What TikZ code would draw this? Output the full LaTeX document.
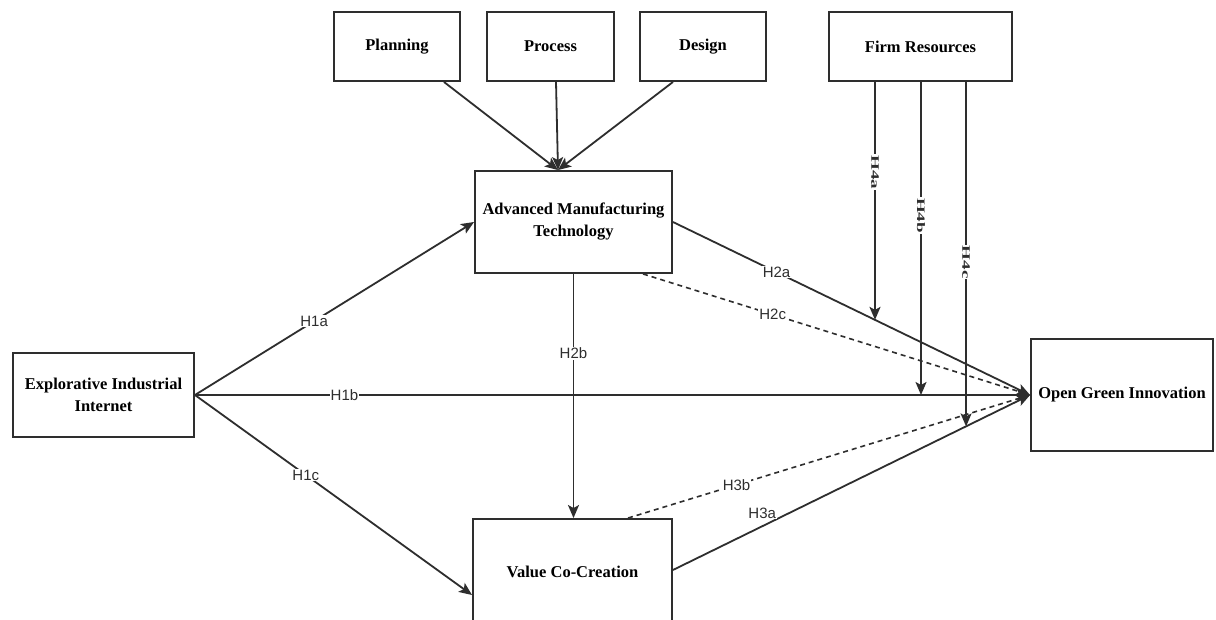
\documentclass[tikz,border=0pt]{standalone}
\usepackage{fontspec}
\setmainfont{Liberation Serif}
\setsansfont{Liberation Sans}
\usetikzlibrary{arrows.meta,calc}
\definecolor{ln}{HTML}{2E2E2E}
\begin{document}
\begin{tikzpicture}[x=1pt,y=-1pt,
  box/.style={draw=ln,line width=1.9pt,fill=white,inner sep=2pt,align=center,
    font=\fontsize{16.5}{22}\selectfont\bfseries},
  arr/.style={draw=ln,line width=1.8pt,-{Stealth[length=13pt,width=11pt,inset=3pt]}},
  dsh/.style={draw=ln,line width=1.6pt,dash pattern=on 5pt off 4pt},
  lbl/.style={fill=white,inner sep=1pt,text=ln,font=\sffamily\fontsize{15}{16}\selectfont},
  vlbl/.style={fill=white,inner sep=1pt,text=ln,rotate=-90,font=\fontsize{19}{20}\selectfont\bfseries}]
\clip (0,0) rectangle (1216,620);
\fill[white] (0,0) rectangle (1216,620);
% boxes
\node[box,minimum width=126pt,minimum height=69pt] (plan) at (397,46.5) {Planning};
\node[box,minimum width=127pt,minimum height=69pt] (proc) at (550.5,46.5) {Process};
\node[box,minimum width=126pt,minimum height=69pt] (design) at (703,46.5) {Design};
\node[box,minimum width=183pt,minimum height=69pt] (firm) at (920.5,46.5) {Firm Resources};
\node[box,minimum width=197pt,minimum height=102pt] (amt) at (573.5,222) {Advanced Manufacturing\\Technology};
\node[box,minimum width=181pt,minimum height=84pt] (eii) at (103.5,395) {Explorative Industrial\\Internet};
\node[box,minimum width=199pt,minimum height=106pt] (vcc) at (572.5,572) {Value Co-Creation};
\node[box,minimum width=182pt,minimum height=112pt] (ogi) at (1122,395) {Open Green Innovation};
% named points
\coordinate (amtin) at ([xshift=-15.5pt]amt.north);
\coordinate (f1) at ([xshift=-45.5pt]firm.south);
\coordinate (f2) at ([xshift=0.5pt]firm.south);
\coordinate (f3) at ([xshift=45.5pt]firm.south);
\coordinate (amtd) at ([xshift=69.5pt]amt.south);
\coordinate (vccd) at ([xshift=55.5pt]vcc.north);
\coordinate (vcce) at ([yshift=2pt]vcc.east);
\coordinate (vccw) at ([yshift=-23pt]vcc.west);
% top inputs
\draw[arr] ([xshift=-17pt]plan.south east) -- (amtin);
\draw[arr] ([xshift=5.5pt]proc.south) -- (amtin);
\draw[arr] ([xshift=-30pt]design.south) -- (amtin);
% dashed
\draw[dsh] (amtd) -- node[lbl,pos=0.335]{H2c} (ogi.west);
\draw[dsh] (vccd) -- node[lbl,pos=0.27]{H3b} (ogi.west);
% main arrows
\draw[arr] (eii.east) -- node[lbl,pos=0.427]{H1a} (amt.west);
\draw[arr] (eii.east) -- node[lbl,pos=0.179]{H1b} (ogi.west);
\draw[arr] (eii.east) -- node[lbl,pos=0.40]{H1c} (vccw);
\draw[arr] (amt.east) -- node[lbl,pos=0.29]{H2a} (ogi.west);
\draw[arr] (amt.south) -- node[lbl,pos=0.325]{H2b} (amt.south |- vcc.north);
\draw[arr] (vcce) -- node[lbl,pos=0.25,anchor=south,yshift=6pt]{H3a} (ogi.west);
% moderators
\draw[arr] (f1) -- node[vlbl,pos=0.38]{\scalebox{1}[0.6]{H4a}} (intersection of f1--{f1 |- ogi.south} and amt.east--ogi.west);
\draw[arr] (f2) -- node[vlbl,pos=0.427]{\scalebox{1}[0.6]{H4b}} (f2 |- ogi.west);
\draw[arr] (f3) -- node[vlbl,pos=0.523]{\scalebox{1}[0.6]{H4c}} (intersection of f3--{f3 |- ogi.south} and vcce--ogi.west);
\end{tikzpicture}
\end{document}
